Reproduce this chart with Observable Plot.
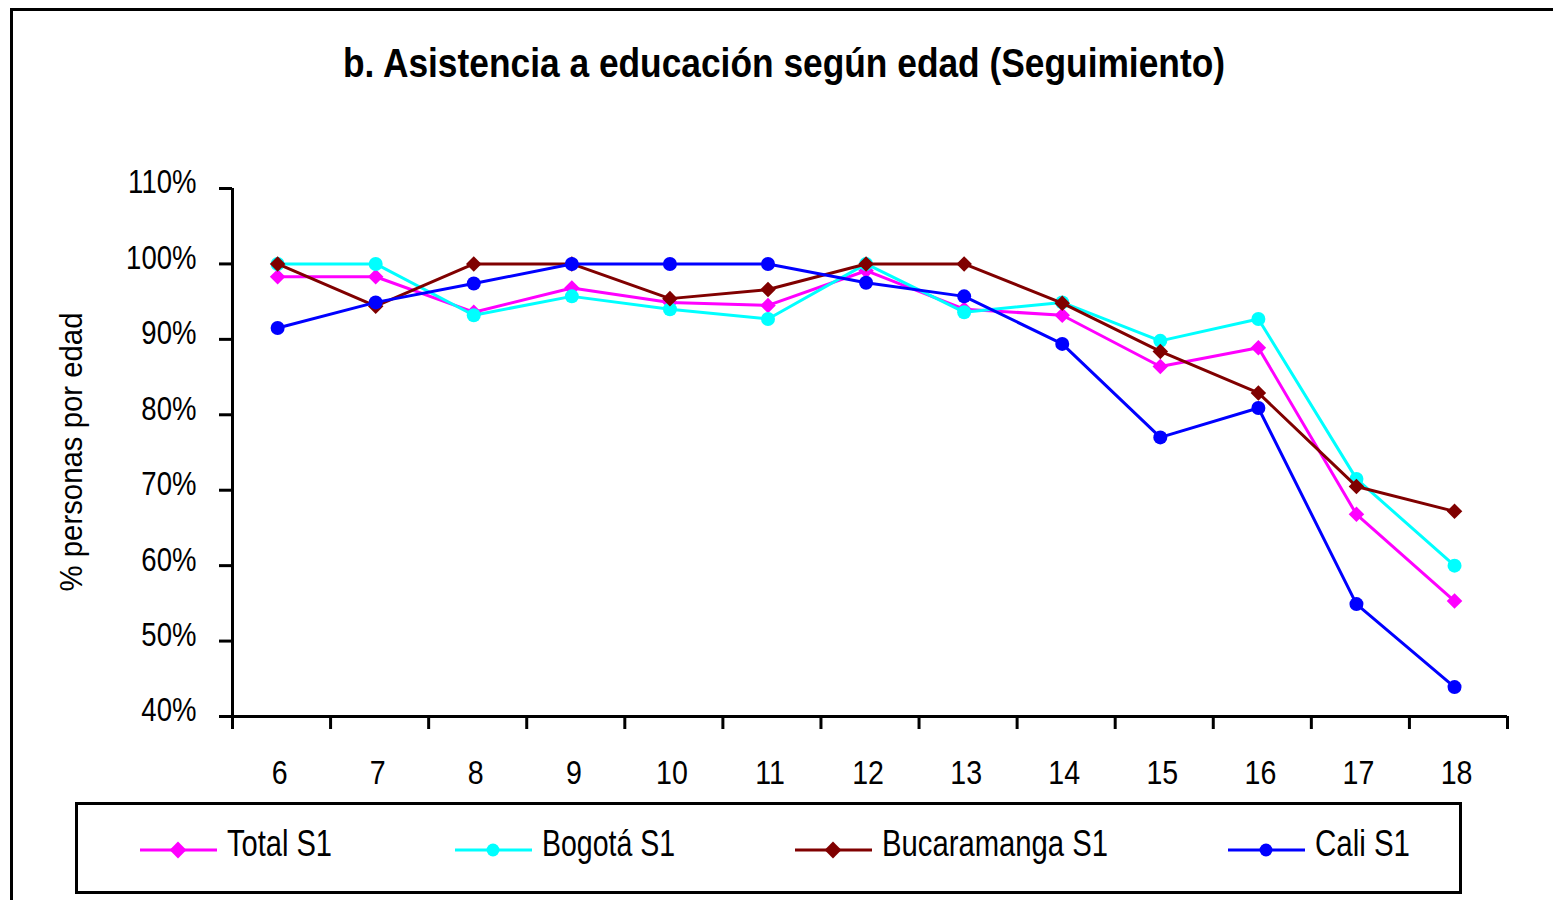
<!DOCTYPE html>
<html><head><meta charset="utf-8">
<script src="https://cdn.jsdelivr.net/npm/d3@7"></script>
<script src="https://cdn.jsdelivr.net/npm/@observablehq/plot@0.6"></script>
<style>
body{margin:0;background:#fff;}
#wrap{position:relative;width:1553px;height:900px;overflow:hidden;background:#fff;font-family:"Liberation Sans",Arial,sans-serif;}
#frame{position:absolute;left:10px;top:8px;width:1700px;height:1100px;border:3px solid #000;box-sizing:border-box;}
#plot{position:absolute;left:0;top:0;}
#over{position:absolute;left:0;top:0;}
</style>
</head><body>
<div id="wrap"><div id="frame"></div><div id="plot"></div><svg id="over" width="1553" height="900"></svg></div>
<script>
const ages = [6,7,8,9,10,11,12,13,14,15,16,17,18];
const totalS1 = [98.3,98.3,93.6,96.8,94.9,94.5,99.1,94.0,93.2,86.4,88.9,66.8,55.3];
const bogotaS1 = [100,100,93.2,95.7,94.0,92.7,100,93.6,94.9,89.8,92.7,71.5,60.0];
const bucaramangaS1 = [100,94.4,100,100,95.4,96.6,100,100,94.8,88.4,82.9,70.5,67.2];
const caliS1 = [91.5,94.9,97.4,100,100,100,97.5,95.7,89.4,77.0,80.9,54.9,43.9];
const seriesNames = ["Total S1","Bogotá S1","Bucaramanga S1","Cali S1"];
const seriesColors = ["#FF00FF","#00FFFF","#800000","#0000FF"];
const seriesSymbols = ["diamond2","circle","diamond2","circle"];
const yTicks = [40,50,60,70,80,90,100,110];
const titleText = "b. Asistencia a educación según edad (Seguimiento)";
const yLabel = "% personas por edad";

const allValues = [totalS1,bogotaS1,bucaramangaS1,caliS1];
const rows = [];
allValues.forEach((vals,si)=>vals.forEach((v,i)=>rows.push({age:ages[i],value:v,series:seriesNames[si]})));

const off = 0.46;
const bounds = ages.map(a=>a-off).concat([ages[ages.length-1]+1-off]);
const FONT = '"Liberation Sans",Arial,sans-serif';

const marks = [
  Plot.ruleX([bounds[0]],{stroke:"#000",strokeWidth:3}),
  Plot.ruleY([40],{stroke:"#000",strokeWidth:3}),
  Plot.axisX(bounds,{tickSize:13,tickFormat:()=>"",strokeWidth:3,tickPadding:0,label:null}),
  Plot.axisX(ages,{tickSize:0,tickPadding:43,fontSize:34,dx:2,fill:"#000",label:null}),
  Plot.axisY(yTicks,{tickSize:13,tickFormat:()=>"",strokeWidth:3,label:null}),
  Plot.axisY(yTicks,{tickSize:0,tickPadding:36,fontSize:34,dy:-6,tickFormat:d=>d+"%",fill:"#000",label:null})
];
seriesNames.forEach((name,si)=>{
  const d = rows.filter(r=>r.series===name);
  marks.push(Plot.line(d,{x:"age",y:"value",stroke:seriesColors[si],strokeWidth:3}));
  marks.push(Plot.dot(d,{x:"age",y:"value",fill:seriesColors[si],symbol:seriesSymbols[si],r:7}));
});

const chart = Plot.plot({
  width:1553,height:800,
  marginLeft:232,marginRight:46,marginTop:188,marginBottom:84,
  style:{fontFamily:FONT,background:"transparent",color:"#000"},
  x:{domain:[bounds[0],bounds[bounds.length-1]],axis:null},
  y:{domain:[40,110],axis:null},
  marks
});
document.getElementById("plot").appendChild(chart);
// condense tick labels to mimic the narrow typeface of the original
d3.select(chart).selectAll('g[aria-label="x-axis tick label"] text')
  .each(function(){ const w = this.getComputedTextLength(); d3.select(this).attr("textLength", w*0.84).attr("lengthAdjust","spacingAndGlyphs"); });
d3.select(chart).selectAll('g[aria-label="y-axis tick label"] text')
  .each(function(){ const w = this.getComputedTextLength(); d3.select(this).attr("textLength", w*0.81).attr("lengthAdjust","spacingAndGlyphs"); });

// Title, y label, legend
const svg = d3.select("#over");
svg.append("text").attr("x",784).attr("y",77).attr("text-anchor","middle")
  .attr("font-family",FONT).attr("font-weight","bold").attr("font-size",40)
  .attr("textLength",882).attr("lengthAdjust","spacingAndGlyphs").text(titleText);
svg.append("text").attr("transform","translate(82,452) rotate(-90)").attr("text-anchor","middle")
  .attr("font-family",FONT).attr("font-size",31)
  .attr("textLength",279).attr("lengthAdjust","spacingAndGlyphs").text(yLabel);

svg.append("rect").attr("x",76.5).attr("y",803.5).attr("width",1384).attr("height",89)
  .attr("fill","#fff").attr("stroke","#000").attr("stroke-width",3);
const legX = [140,455,795,1228];
const legTextW = [105,133,226,95];
seriesNames.forEach((name,i)=>{
  const x0 = legX[i];
  svg.append("line").attr("x1",x0).attr("x2",x0+77).attr("y1",850).attr("y2",850)
    .attr("stroke",seriesColors[i]).attr("stroke-width",3);
  const sym = seriesSymbols[i]==="circle" ? d3.symbol(d3.symbolCircle, 130) : d3.symbol(d3.symbolDiamond2, 180);
  svg.append("path").attr("d",sym()).attr("transform",`translate(${x0+38},850)`).attr("fill",seriesColors[i]);
  svg.append("text").attr("x",x0+87).attr("y",856).attr("font-family",FONT).attr("font-size",36)
    .attr("textLength",legTextW[i]).attr("lengthAdjust","spacingAndGlyphs").text(name);
});
</script>
</body></html>
